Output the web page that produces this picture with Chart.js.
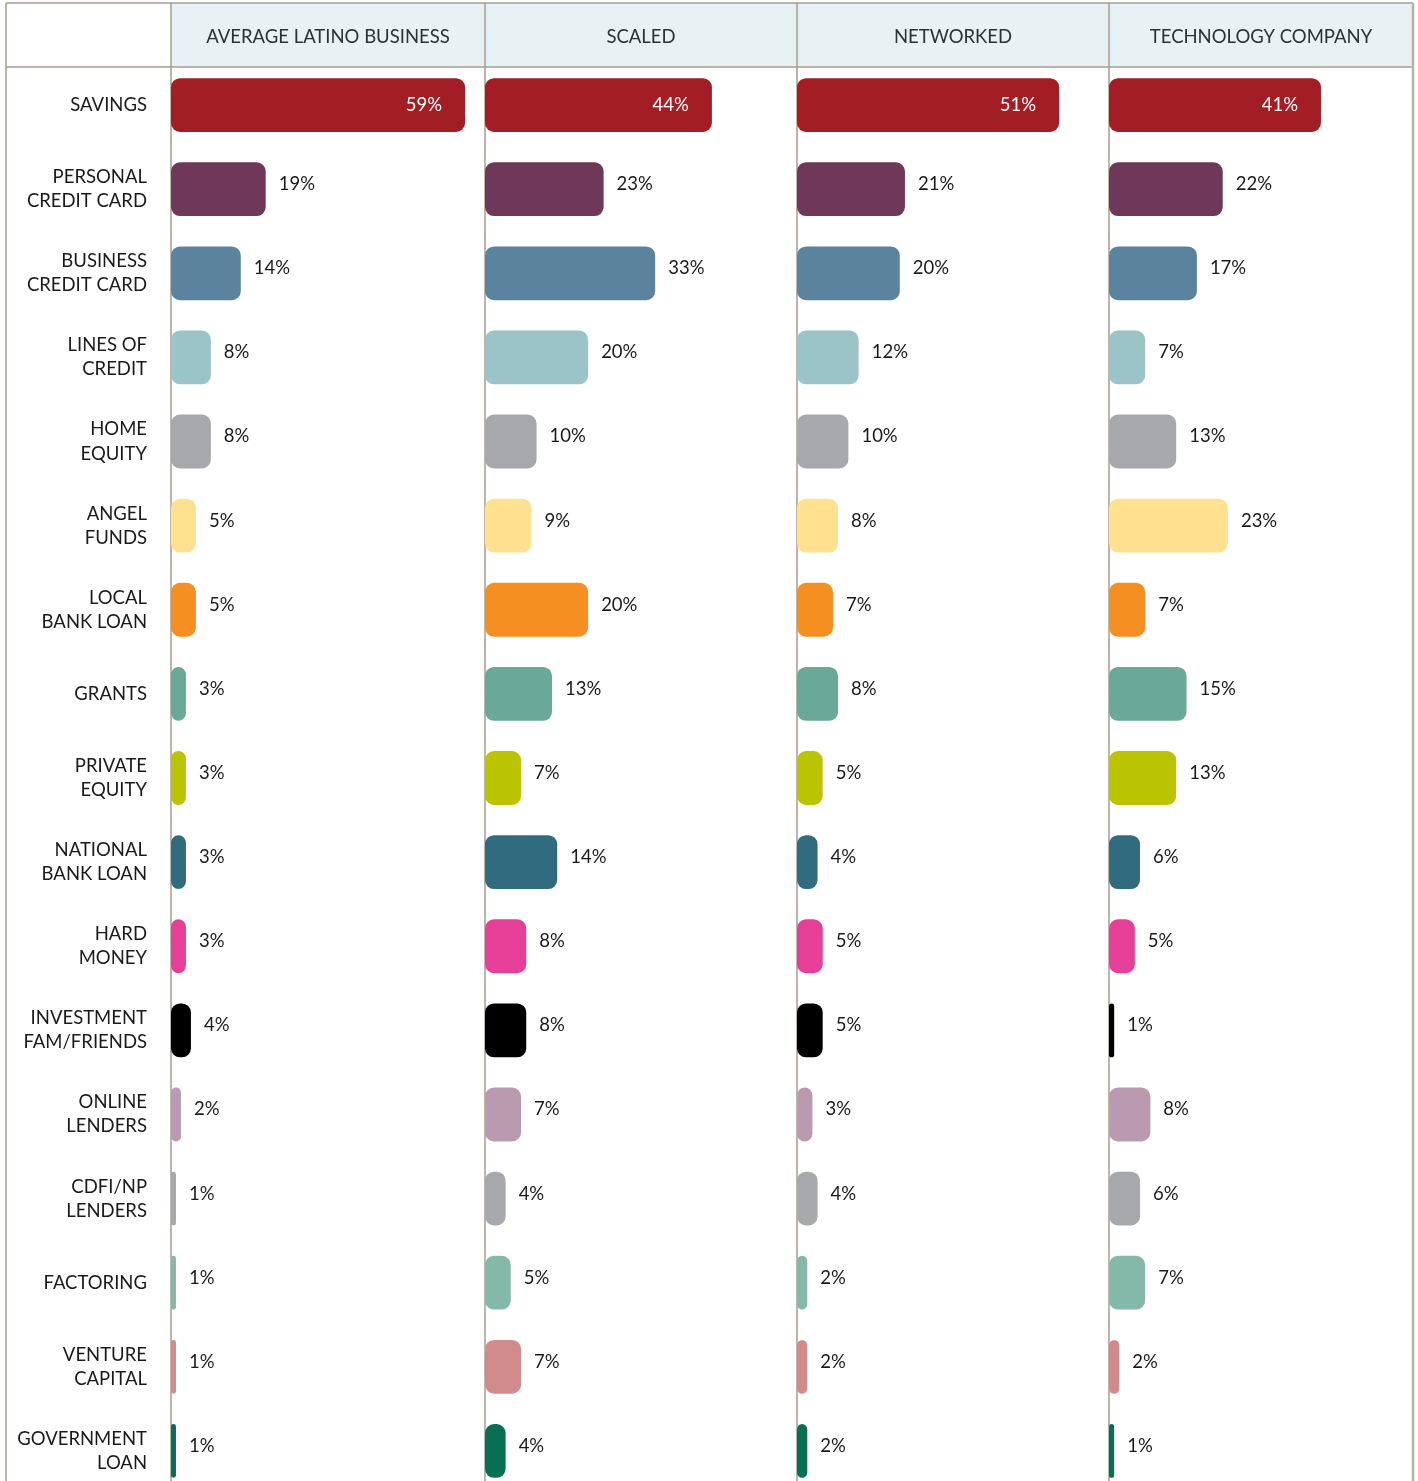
<!DOCTYPE html>
<html>
<head>
<meta charset="utf-8">
<script src="https://cdn.jsdelivr.net/npm/chart.js@4.4.1/dist/chart.umd.min.js"></script>
<style>
  html, body { margin: 0; padding: 0; overflow: hidden; background: #ffffff; }
</style>
</head>
<body>
<canvas id="fundingChart" width="1418" height="1530"></canvas>
<script>
const categories = [
    ['SAVINGS'], ['PERSONAL', 'CREDIT CARD'], ['BUSINESS', 'CREDIT CARD'], ['LINES OF', 'CREDIT'],
    ['HOME', 'EQUITY'], ['ANGEL', 'FUNDS'], ['LOCAL', 'BANK LOAN'], ['GRANTS'],
    ['PRIVATE', 'EQUITY'], ['NATIONAL', 'BANK LOAN'], ['HARD', 'MONEY'], ['INVESTMENT', 'FAM/FRIENDS'],
    ['ONLINE', 'LENDERS'], ['CDFI/NP', 'LENDERS'], ['FACTORING'], ['VENTURE', 'CAPITAL'], ['GOVERNMENT', 'LOAN']
];
const columns = ['AVERAGE LATINO BUSINESS', 'SCALED', 'NETWORKED', 'TECHNOLOGY COMPANY'];

const averageLatino = [59, 19, 14, 8, 8, 5, 5, 3, 3, 3, 3, 4, 2, 1, 1, 1, 1];
const scaled        = [44, 23, 33, 20, 10, 9, 20, 13, 7, 14, 8, 8, 7, 4, 5, 7, 4];
const networked     = [51, 21, 20, 12, 10, 8, 7, 8, 5, 4, 5, 5, 3, 4, 2, 2, 2];
const technology    = [41, 22, 17, 7, 13, 23, 7, 15, 13, 6, 5, 1, 8, 6, 7, 2, 1];

const barColors = [
    '#a31e24', '#6f3758', '#5b839e', '#9bc4c9', '#a7a8ab', '#ffe190', '#f68f21', '#6aa897', '#bbc402',
    '#316b80', '#e63f97', '#000000', '#b99aae', '#a7a8ab', '#84b8a8', '#d18b8d', '#086f55'
];

const FONT = 'Lato, "Noto Sans", sans-serif';
const LINE = '#a59d90';

// header band, column rules and frame
const tableFrame = {
    id: 'tableFrame',
    beforeDatasetsDraw(chart) {
        const { ctx, chartArea } = chart;
        const cols = ['x0', 'x1', 'x2', 'x3'].map(id => chart.scales[id]);
        const left = Math.min(...cols.map(s => s.left));
        ctx.save();
        ctx.fillStyle = '#e8f1f3';
        ctx.fillRect(left, 3, chartArea.right - left, 64);

        ctx.fillStyle = '#2b3135';
        ctx.font = '18.5px ' + FONT;
        ctx.textAlign = 'center';
        ctx.textBaseline = 'middle';
        cols.forEach((s, i) => ctx.fillText(columns[i], (s.left + s.right) / 2, 37));

        ctx.strokeStyle = LINE;
        ctx.lineWidth = 1.5;
        ctx.beginPath();
        ctx.moveTo(6, 3); ctx.lineTo(chartArea.right, 3);
        ctx.moveTo(6, 67); ctx.lineTo(chartArea.right, 67);
        ctx.moveTo(6, 3); ctx.lineTo(6, chart.height);
        cols.forEach(s => { ctx.moveTo(s.left, 3); ctx.lineTo(s.left, chart.height); });
        ctx.stroke();
        ctx.lineWidth = 2.5;
        ctx.strokeStyle = '#b9b2a7';
        ctx.beginPath();
        ctx.moveTo(chartArea.right, 3); ctx.lineTo(chartArea.right, chart.height);
        ctx.stroke();
        ctx.restore();
    }
};

const valueLabels = {
    id: 'valueLabels',
    afterDatasetsDraw(chart) {
        const ctx = chart.ctx;
        ctx.save();
        ctx.font = '18.5px ' + FONT;
        ctx.textBaseline = 'middle';
        chart.data.datasets.forEach((ds, di) => {
            chart.getDatasetMeta(di).data.forEach((bar, i) => {
                const txt = ds.data[i] + '%';
                if (i === 0) {
                    ctx.fillStyle = '#ffffff';
                    ctx.textAlign = 'right';
                    ctx.fillText(txt, bar.x - 23, bar.y);
                } else {
                    ctx.fillStyle = '#1a1a1a';
                    ctx.textAlign = 'left';
                    ctx.fillText(txt, bar.x + 13, bar.y - 5);
                }
            });
        });
        ctx.restore();
    }
};

const colScale = (weight, max) => ({
    type: 'linear', position: 'bottom', stack: 'cols', stackWeight: weight,
    min: 0, max: max, display: false
});

const makeSet = (label, data, axis) => ({
    label, data, xAxisID: axis,
    backgroundColor: barColors,
    borderRadius: 9,
    borderSkipped: false,
    grouped: false,
    barPercentage: 0.64,
    categoryPercentage: 1
});

new Chart(document.getElementById('fundingChart'), {
    type: 'bar',
    data: {
        labels: categories,
        datasets: [
            makeSet(columns[0], averageLatino, 'x0'),
            makeSet(columns[1], scaled, 'x1'),
            makeSet(columns[2], networked, 'x2'),
            makeSet(columns[3], technology, 'x3')
        ]
    },
    options: {
        indexAxis: 'y',
        responsive: false,
        animation: false,
        layout: { padding: { left: 0, top: 63, right: 5, bottom: 37 } },
        plugins: { legend: { display: false }, tooltip: { enabled: false } },
        scales: {
            y: {
                type: 'category',
                position: 'left',
                afterFit: s => { s.width = 171; },
                grid: { display: false, drawTicks: false },
                border: { display: false },
                ticks: {
                    color: '#1a1a1a',
                    padding: 24,
                    autoSkip: false,
                    font: { family: FONT, size: 18.5, lineHeight: 1.3 }
                }
            },
            x0: colScale(314, 63),
            x1: colScale(312, 60.5),
            x2: colScale(312, 60.7),
            x3: colScale(304, 58.8)
        }
    },
    plugins: [tableFrame, valueLabels]
});
</script>
</body>
</html>
